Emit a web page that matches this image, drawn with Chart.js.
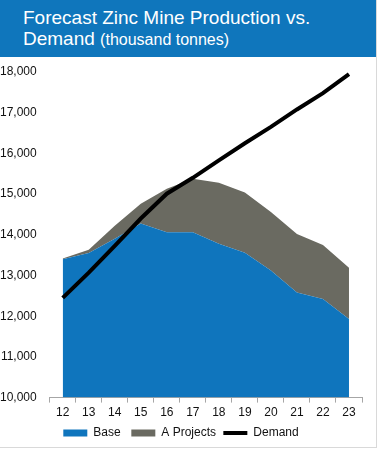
<!DOCTYPE html>
<html>
<head>
<meta charset="utf-8">
<script src="https://cdn.jsdelivr.net/npm/chart.js@4"></script>
<style>
    body { margin: 0; background: #fff; font-family: "Liberation Sans", Arial, sans-serif; }
    #frame { position: relative; width: 376px; height: 447px; border-right: 1px solid #d9d9d9; border-bottom: 1px solid #d9d9d9; }
    #title { height: 57px; background: #0f76bc; color: #fff; padding: 7px 0 0 23px; box-sizing: border-box; font-size: 19px; line-height: 21px; }
    #title small { font-size: 16px; }
    #wrap { position: absolute; left: 0; top: 58px; width: 376px; height: 391px; }
</style>
</head>
<body>
<div id="frame">
    <div id="title">Forecast Zinc Mine Production vs.<br>Demand <small>(thousand tonnes)</small></div>
    <div id="wrap"><canvas id="area_chart"></canvas></div>
</div>
<script>
var years = ["12", "13", "14", "15", "16", "17", "18", "19", "20", "21", "22", "23"];
var base = [13400, 13550, 13900, 14280, 14060, 14060, 13780, 13560, 13120, 12580, 12420, 11930];
var aProjects = [20, 80, 320, 480, 1070, 1320, 1500, 1480, 1440, 1440, 1330, 1260];
var demand = [12450, 13070, 13730, 14400, 15010, 15400, 15830, 16250, 16650, 17080, 17480, 17950];

Chart.defaults.font.family = '"Liberation Sans", Arial, sans-serif';
Chart.defaults.font.size = 12;
Chart.defaults.color = '#111';

new Chart(document.getElementById("area_chart").getContext("2d"), getChartJs());

function getChartJs() {
    return {
        type: 'line',
        data: {
            labels: years,
            datasets: [{
                label: "Base",
                data: base,
                backgroundColor: '#0f75bd',
                borderWidth: 0,
                pointRadius: 0,
                pointStyle: 'rect',
                fill: 'origin',
                order: 1
            }, {
                label: "A Projects",
                data: aProjects,
                backgroundColor: '#6a6a61',
                borderWidth: 0,
                pointRadius: 0,
                pointStyle: 'rect',
                fill: '-1',
                order: 1
            }, {
                label: "Demand",
                data: demand,
                stack: 'demand',
                borderColor: '#000',
                backgroundColor: '#000',
                borderWidth: 4,
                pointRadius: 0,
                pointStyle: 'line',
                fill: false,
                order: 0
            }]
        },
        options: {
            responsive: true,
            maintainAspectRatio: false,
            animation: false,
            layout: { padding: { top: 14, right: 14, left: 0, bottom: 0 } },
            elements: { line: { tension: 0 } },
            scales: {
                x: {
                    offset: true,
                    grid: { offset: true, drawOnChartArea: false, tickLength: 5, color: '#a6a6a6' },
                    border: { color: '#a6a6a6' },
                    ticks: { padding: 3, maxRotation: 0 }
                },
                y: {
                    stacked: true,
                    min: 10000,
                    max: 18000,
                    grid: { display: false, tickLength: 13 },
                    border: { display: false },
                    ticks: {
                        stepSize: 1000,
                        padding: 0,
                        callback: function (v) { return v.toLocaleString('en-US'); }
                    }
                }
            },
            plugins: {
                legend: {
                    position: 'bottom',
                    labels: {
                        usePointStyle: true,
                        pointStyleWidth: 24,
                        boxHeight: 7,
                        padding: 4,
                        sort: function (a, b) { return a.datasetIndex - b.datasetIndex; },
                        generateLabels: function (chart) {
                            var items = Chart.defaults.plugins.legend.labels.generateLabels(chart);
                            var gaps = ['  ', ' ', ''];
                            items.forEach(function (it) { it.text = it.text + gaps[it.datasetIndex]; });
                            return items;
                        }
                    }
                },
                tooltip: { enabled: false }
            }
        }
    };
}
</script>
</body>
</html>
